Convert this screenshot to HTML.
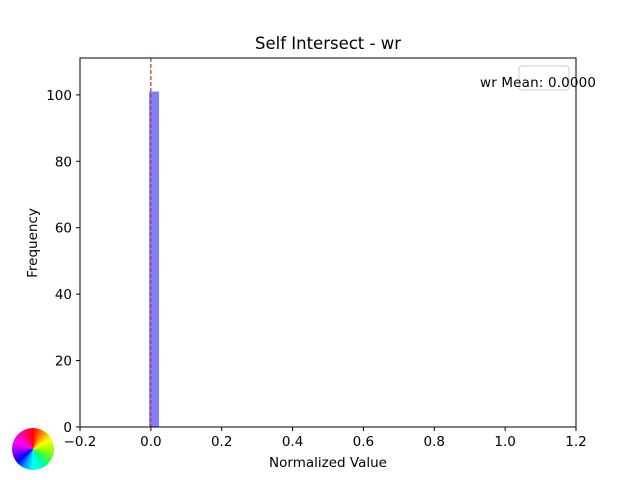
<!DOCTYPE html>
<html><head><meta charset="utf-8"><style>
body{margin:0;background:#fff;width:640px;height:480px;overflow:hidden;font-family:"Liberation Sans","DejaVu Sans",sans-serif}
svg text{font-family:"DejaVu Sans","Liberation Sans",sans-serif}
#wheel{position:absolute;left:12px;top:428px;width:42px;height:42px;border-radius:50%;background:conic-gradient(#f00,#f80 30deg,#ff0 60deg,#8f0 100deg,#0f8 140deg,#0ff 180deg,#08f 210deg,#00f 230deg,#80f 260deg,#f0f 290deg,#f08 330deg,#f00)}
</style></head><body>
<svg id="chart" width="640" height="480" style="position:absolute;left:0;top:0">
<text x="328" y="49" font-size="16.5" text-anchor="middle">Self Intersect - wr</text>
<g id="bars"></g><g id="ticks"></g>
<rect x="80" y="58" width="496" height="369" fill="none" stroke="#000" stroke-width="1"/>
<text x="328" y="467" font-size="13.5" text-anchor="middle">Normalized Value</text>
<text transform="translate(37,243) rotate(-90)" font-size="13.5" text-anchor="middle">Frequency</text>
<rect x="519" y="66" width="50" height="24" rx="3" fill="#fff" fill-opacity="0.8" stroke="#ccc"/>
<text x="480" y="87" font-size="13.5" textLength="116">wr Mean: 0.0000</text>
</svg>
<div id="wheel"></div>
<script>
const binLefts=[-0.005];
const binRights=[0.023];
const counts=[101];
const meanValue=[0.0];
const xTicks=[-0.2,0.0,0.2,0.4,0.6,0.8,1.0,1.2];
const yTicks=[0,20,40,60,80,100];
const X=v=>80+(v+0.2)/1.4*496;
const Y=v=>427-v/111.1*369;
const ns="http://www.w3.org/2000/svg";
const bars=document.getElementById('bars'),tk=document.getElementById('ticks');
counts.forEach((c,i)=>{
 const r=document.createElementNS(ns,'rect');
 r.setAttribute('x',X(binLefts[i]));r.setAttribute('width',X(binRights[i])-X(binLefts[i]));
 r.setAttribute('y',Y(c));r.setAttribute('height',Y(0)-Y(c));r.setAttribute('fill','#8080ff');
 
 
 bars.appendChild(r);
});
meanValue.forEach(m=>{
 const l=document.createElementNS(ns,'line');
 l.setAttribute('x1',X(m));l.setAttribute('x2',X(m));l.setAttribute('y1',58);l.setAttribute('y2',427);
 l.setAttribute('stroke','#d62728');l.setAttribute('stroke-dasharray','4,2');l.setAttribute('stroke-width','1.2');
 
 
 bars.appendChild(l);
});
xTicks.forEach(v=>{
 const l=document.createElementNS(ns,'line');
 l.setAttribute('x1',X(v));l.setAttribute('x2',X(v));l.setAttribute('y1',427);l.setAttribute('y2',431);l.setAttribute('stroke','#000');
 
 
 tk.appendChild(l);
 const t=document.createElementNS(ns,'text');
 t.setAttribute('x',X(v));t.setAttribute('y',446);t.setAttribute('font-size','13.5');t.setAttribute('text-anchor','middle');
 t.textContent=v.toFixed(1).replace('-','\u2212');
 
 
 tk.appendChild(t);
});
yTicks.forEach(v=>{
 const l=document.createElementNS(ns,'line');
 l.setAttribute('x1',76);l.setAttribute('x2',80);l.setAttribute('y1',Y(v));l.setAttribute('y2',Y(v));l.setAttribute('stroke','#000');
 
 
 tk.appendChild(l);
 const t=document.createElementNS(ns,'text');
 t.setAttribute('x',72);t.setAttribute('y',Y(v)+5);t.setAttribute('font-size','13.5');t.setAttribute('text-anchor','end');
 t.textContent=v;
 
 
 tk.appendChild(t);
});
</script>
</body></html>
